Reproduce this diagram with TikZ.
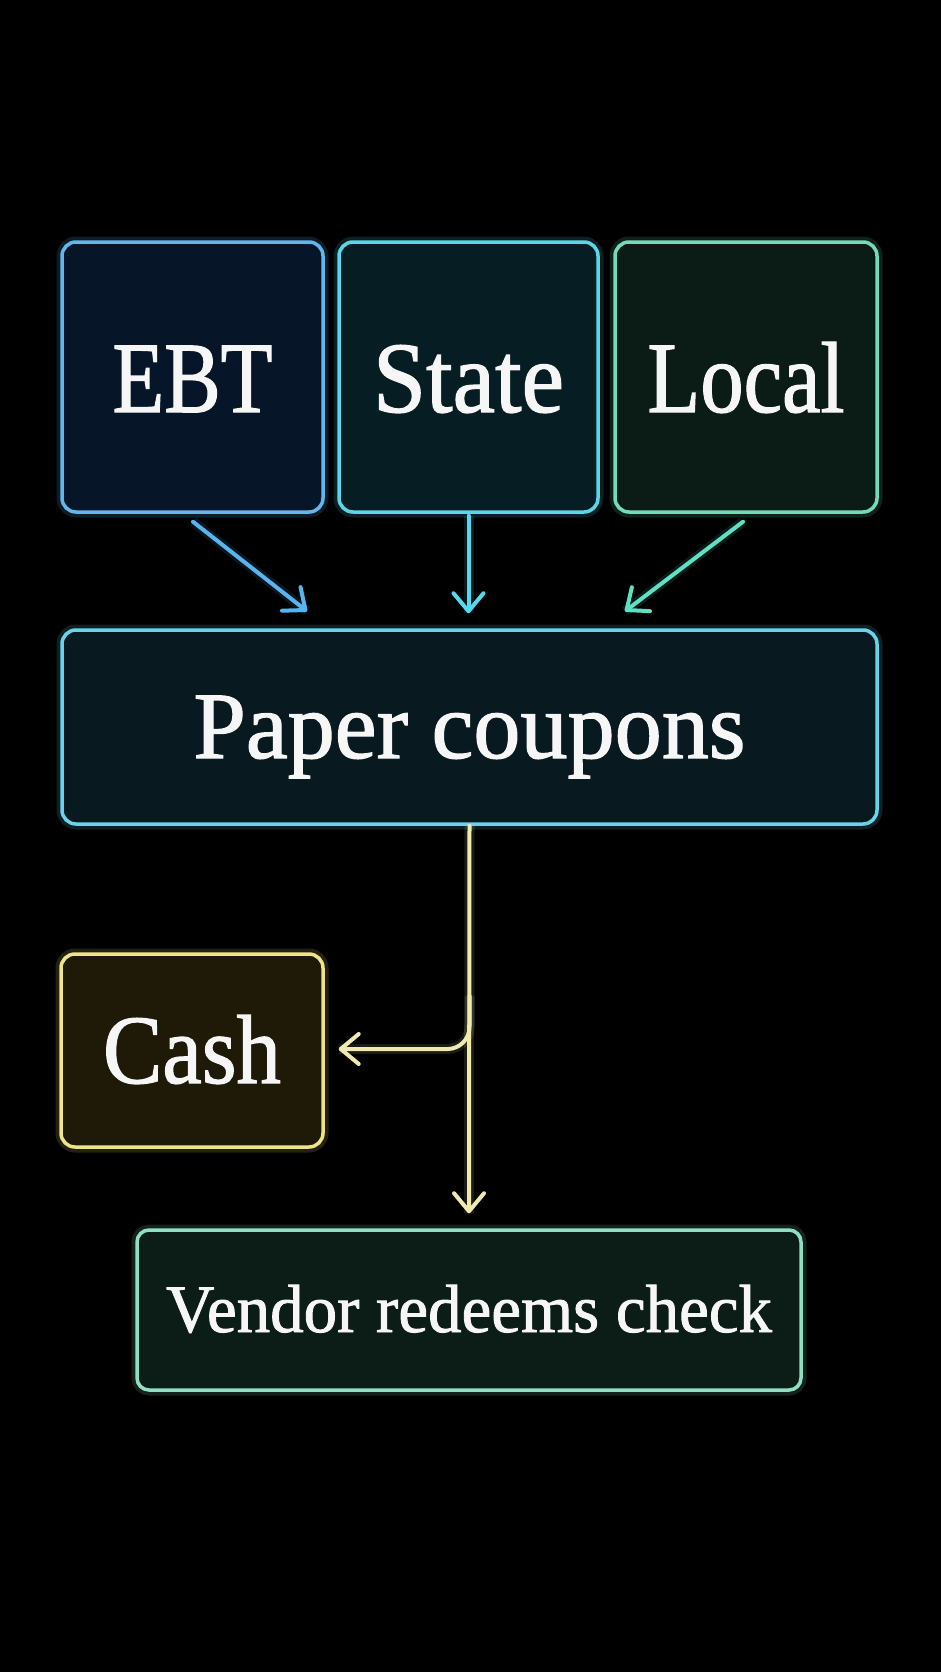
\documentclass[tikz,border=0pt]{standalone}
\usepackage{fontspec}
\setmainfont{Liberation Serif}
\newfontface\heavy{Liberation Serif}[FakeBold=1.3]
\usepackage{graphicx}
\usetikzlibrary{arrows.meta,calc}
\definecolor{ebtB}{HTML}{62B6EE}\definecolor{ebtF}{HTML}{061628}
\definecolor{staB}{HTML}{5AD6E6}\definecolor{staF}{HTML}{071D24}
\definecolor{locB}{HTML}{72DCB8}\definecolor{locF}{HTML}{0B1C17}
\definecolor{papB}{HTML}{66D4EA}\definecolor{papF}{HTML}{081920}
\definecolor{casB}{HTML}{EEE48A}\definecolor{casF}{HTML}{1E1A07}
\definecolor{venB}{HTML}{8EE0C0}\definecolor{venF}{HTML}{0C1C17}
\definecolor{arrE}{HTML}{58B4EE}\definecolor{arrS}{HTML}{56D8EE}
\definecolor{arrL}{HTML}{5EE0C4}\definecolor{arrY}{HTML}{EEEAB0}
\definecolor{txt}{HTML}{F6F6F6}
\newsavebox\fitbox
\newcommand\fittext[3]{%
  \sbox\fitbox{\heavy\fontsize{#1}{#1}\selectfont #3}%
  \pgfmathsetmacro\fitx{#2/\the\wd\fitbox}%
  \scalebox{\fitx}[1]{\usebox\fitbox}}
\tikzset{
  box/.style n args={4}{draw=#1, fill=#2, line width=3.5pt, rounded corners=14pt,
    inner sep=0pt, text=txt, text height=#3, text depth=0pt, align=center,
    preaction={draw=#1, line width=11pt, draw opacity=0.15, rounded corners=14pt},
    #4},
  conn/.style={draw=#1, line width=4pt, line cap=round,
    -{Straight Barb[length=18pt,width=30pt,round]},
    preaction={draw=#1, line width=10pt, draw opacity=0.12, -}},
}
\begin{document}
\begin{tikzpicture}[x=1pt,y=-1pt]
\useasboundingbox (0,0) rectangle (941,1672);
\fill[black] (0,0) rectangle (941,1672);

\node[box={ebtB}{ebtF}{70pt}{minimum width=261pt, minimum height=270pt}] (ebt) at (192.5,377) {\fittext{101}{160}{EBT}};
\node[box={staB}{staF}{70pt}{minimum width=259pt, minimum height=270pt}] (state) at (468.5,377) {\fittext{101}{191}{State}};
\node[box={locB}{locF}{70pt}{minimum width=262pt, minimum height=270pt}] (local) at (746,377) {\fittext{101}{197}{Local}};
\node[box={papB}{papF}{62pt}{minimum width=815pt, minimum height=194pt}] (paper) at (469.5,727) {\fittext{95}{552}{Paper coupons}};
\node[box={casB}{casF}{65pt}{minimum width=262pt, minimum height=193pt}] (cash) at (192,1050.5) {\fittext{98}{178}{Cash}};
\node[box={venB}{venF}{44pt}{minimum width=664pt, minimum height=160pt, rounded corners=12pt}] (vendor) at (469,1310) {\fittext{68}{606}{Vendor redeems check}};

\draw[conn=arrE] ($(ebt.south)+(0.5,8)$) -- ($(paper.north)+(-162.5,-17)$);
\draw[conn=arrS] ($(state.south)+(0,2)$) -- ($(state.south |- paper.north)+(0,-15)$);
\draw[conn=arrL] ($(local.south)+(-3,8)$) -- ($(paper.north)+(155.5,-17)$);
\draw[conn=arrY] (paper.south) -- ($(vendor.north)+(0,-15)$);
\draw[conn=arrY, rounded corners=22pt] ($(paper.south)+(0,170)$) |- ($(cash.east)+(14,-1.5)$);
\end{tikzpicture}
\end{document}
